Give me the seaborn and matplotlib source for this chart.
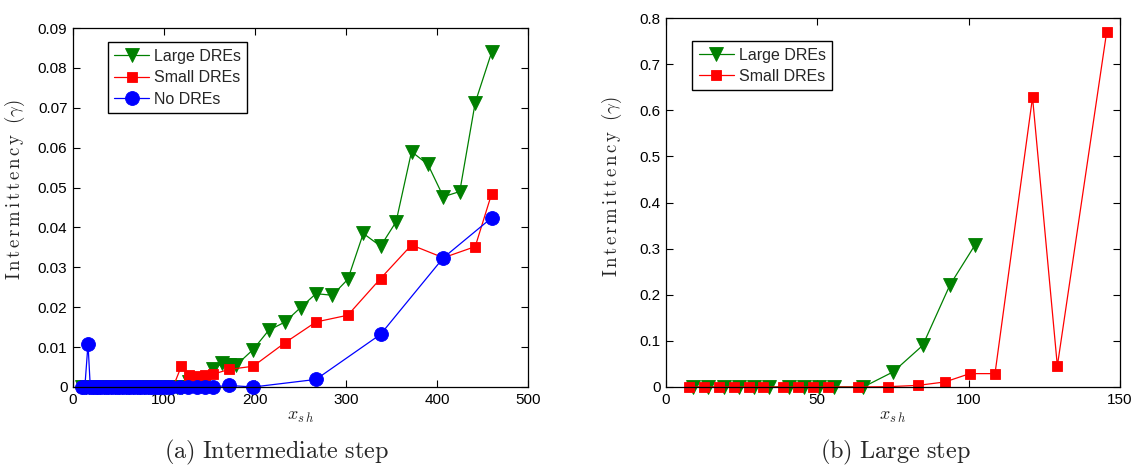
import numpy as np
import matplotlib
matplotlib.use("Agg")
import matplotlib.pyplot as plt
import seaborn as sns

# ---------------- data: (a) intermediate step ----------------
large_a_x = [10, 14, 18, 22, 26, 30, 34, 38, 42, 46, 50, 54, 58, 62, 66, 70, 74, 78, 82, 86,
             90, 94, 98, 102, 106, 110, 114, 120, 128, 136, 145, 154, 164, 171, 179, 198,
             215, 233, 250, 267, 285, 302, 319, 338, 355, 372, 390, 407, 425, 442, 460]
large_a_y = [0, 0, 0, 0, 0, 0, 0, 0, 0, 0, 0, 0, 0, 0, 0, 0, 0, 0, 0, 0,
             0, 0, 0, 0, 0, 0, 0, 0, 0.0013, 0.0011, 0.0009, 0.0046, 0.0059, 0.0056, 0.0054, 0.0094,
             0.0142, 0.0163, 0.0199, 0.0234, 0.0230, 0.0270, 0.0385, 0.0353, 0.0414, 0.0590, 0.0558,
             0.0477, 0.0490, 0.0713, 0.0839]

small_a_x = [10, 15, 20, 25, 30, 35, 40, 45, 50, 55, 60, 65, 70, 75, 80, 85, 90, 95, 100, 105,
             110, 119, 128, 135.5, 145, 154, 171, 198, 233, 267, 302, 338, 372, 407, 442, 460]
small_a_y = [0, 0, 0, 0, 0, 0, 0, 0, 0, 0, 0, 0, 0, 0, 0, 0, 0, 0, 0, 0,
             0, 0.0052, 0.0031, 0.0027, 0.0031, 0.0032, 0.0044, 0.0052, 0.0111, 0.0163, 0.0180,
             0.0272, 0.0356, 0.0324, 0.0352, 0.0484]

none_a_x = [10, 13, 16.5, 19, 22, 25, 28, 31, 35, 39, 43, 47, 51, 55, 59, 63, 67, 71, 75, 79,
            83, 87, 91, 95, 99, 103, 108, 118, 126, 136, 145, 154, 171, 198, 267, 338, 407, 460]
none_a_y = [0, 0, 0.0108, 0, 0, 0, 0, 0, 0, 0, 0, 0, 0, 0, 0, 0, 0, 0, 0, 0,
            0, 0, 0, 0, 0, 0, 0, 0, 0, 0, 0, 0, 0.0004, 0, 0.0019, 0.0132, 0.0324, 0.0424]

# ---------------- data: (b) large step ----------------
large_b_x = [9, 14, 19, 24, 29, 34, 40.6, 45.6, 50.6, 55.5, 65.2, 75.1, 84.8, 93.8, 102.1]
large_b_y = [0, 0, 0, 0, 0, 0, 0, 0, 0, 0, 0, 0.033, 0.090, 0.221, 0.308]

small_b_x = [7.6, 12.7, 17.5, 22.6, 27.4, 32.1, 38.8, 43.7, 48.7, 53.6, 63.5, 73.5, 83.4,
             92.2, 100.4, 108.7, 121.1, 129.3, 145.6]
small_b_y = [0, 0, 0, 0, 0, 0, 0, 0, 0, 0, 0, 0.0007, 0.0036, 0.011, 0.029, 0.029,
             0.628, 0.0456, 0.770]

series_names = ["Large DREs", "Small DREs", "No DREs"]
a_xticks = [0, 100, 200, 300, 400, 500]
a_yticks = [0, 0.01, 0.02, 0.03, 0.04, 0.05, 0.06, 0.07, 0.08, 0.09]
b_xticks = [0, 50, 100, 150]
b_yticks = [0, 0.1, 0.2, 0.3, 0.4, 0.5, 0.6, 0.7, 0.8]
captions = [r"$\mathrm{(a)\ Intermediate\ step}$", r"$\mathrm{(b)\ Large\ step}$"]
ylabel_text = r"$\mathrm{I\,n\,t\,e\,r\,m\,i\,t\,t\,e\,n\,c\,y}\ \ (\gamma)$"
xlabel_text = r"$x_{s\,h}$"

# ---------------- style ----------------
sns.set_style("ticks")
plt.rcParams["font.family"] = ["Liberation Sans", "DejaVu Sans"]
plt.rcParams["mathtext.fontset"] = "cm"
plt.rcParams["xtick.direction"] = "in"
plt.rcParams["ytick.direction"] = "in"
plt.rcParams["xtick.top"] = True
plt.rcParams["ytick.right"] = True
plt.rcParams["axes.edgecolor"] = "black"
plt.rcParams["xtick.color"] = "black"
plt.rcParams["ytick.color"] = "black"

GREEN = "#008000"
RED = "#ff0000"
BLUE = "#0000ff"

W, H = 1135, 466
fig = plt.figure(figsize=(W / 100, H / 100), dpi=100)

def box(l, r, t, b):
    return [l / W, 1 - b / H, (r - l) / W, (b - t) / H]

ax1 = fig.add_axes(box(73, 528, 28, 387))
ax2 = fig.add_axes(box(666, 1120, 18, 387))

line_kw = dict(linewidth=0.9, sort=False, estimator=None, markeredgewidth=0.6)

sns.lineplot(x=large_a_x, y=large_a_y, ax=ax1, color=GREEN, marker="v", markersize=10,
             markeredgecolor=GREEN, label=series_names[0], **line_kw)
sns.lineplot(x=small_a_x, y=small_a_y, ax=ax1, color=RED, marker="s", markersize=7,
             markeredgecolor=RED, label=series_names[1], **line_kw)
sns.lineplot(x=none_a_x, y=none_a_y, ax=ax1, color=BLUE, marker="o", markersize=10,
             markeredgecolor=BLUE, label=series_names[2], **line_kw)

sns.lineplot(x=large_b_x, y=large_b_y, ax=ax2, color=GREEN, marker="v", markersize=10,
             markeredgecolor=GREEN, label=series_names[0], **line_kw)
sns.lineplot(x=small_b_x, y=small_b_y, ax=ax2, color=RED, marker="s", markersize=7,
             markeredgecolor=RED, label=series_names[1], **line_kw)

def fmt(v):
    return "0" if v == 0 else f"{v:g}"

for ax, xt, yt, xl, yl, lab_xy in [(ax1, a_xticks, a_yticks, (0, 500), (0, 0.09), (-0.101, 0.549)),
                                   (ax2, b_xticks, b_yticks, (0, 150), (0, 0.8), (-0.0925, 0.542))]:
    ax.set_xlim(*xl)
    ax.set_ylim(*yl)
    ax.set_xticks(xt)
    ax.set_yticks(yt)
    ax.set_xticklabels([fmt(v) for v in xt], fontsize=11)
    ax.set_yticklabels([fmt(v) for v in yt], fontsize=11)
    ax.tick_params(axis="both", which="both", length=5, width=0.8, pad=4)
    for s in ax.spines.values():
        s.set_linewidth(0.9)
        s.set_color("black")
    ax.set_xlabel(xlabel_text, fontsize=13, labelpad=1)
    ax.set_ylabel(ylabel_text, fontsize=13.5)
    ax.yaxis.set_label_coords(*lab_xy)
    ax.grid(False)
    for ln in ax.lines:
        ln.set_clip_on(False)

leg1 = ax1.legend(loc="upper left", bbox_to_anchor=(0.076, 0.96), fontsize=11.5,
                  frameon=True, fancybox=False, edgecolor="black", framealpha=1,
                  handlelength=2.2, borderpad=0.4, labelspacing=0.4, handletextpad=0.3,
                  borderaxespad=0)
leg1.get_frame().set_linewidth(1.0)
leg2 = ax2.legend(loc="upper left", bbox_to_anchor=(0.058, 0.937), fontsize=11.5,
                  frameon=True, fancybox=False, edgecolor="black", framealpha=1,
                  handlelength=2.2, borderpad=0.4, labelspacing=0.4, handletextpad=0.3,
                  borderaxespad=0)
leg2.get_frame().set_linewidth(1.0)

fig.text(277 / W, 1 - 452 / H, captions[0], ha="center", va="center", fontsize=17.5)
fig.text(895 / W, 1 - 452 / H, captions[1], ha="center", va="center", fontsize=17.5)

fig.savefig("out.png", dpi=100, facecolor="white")
